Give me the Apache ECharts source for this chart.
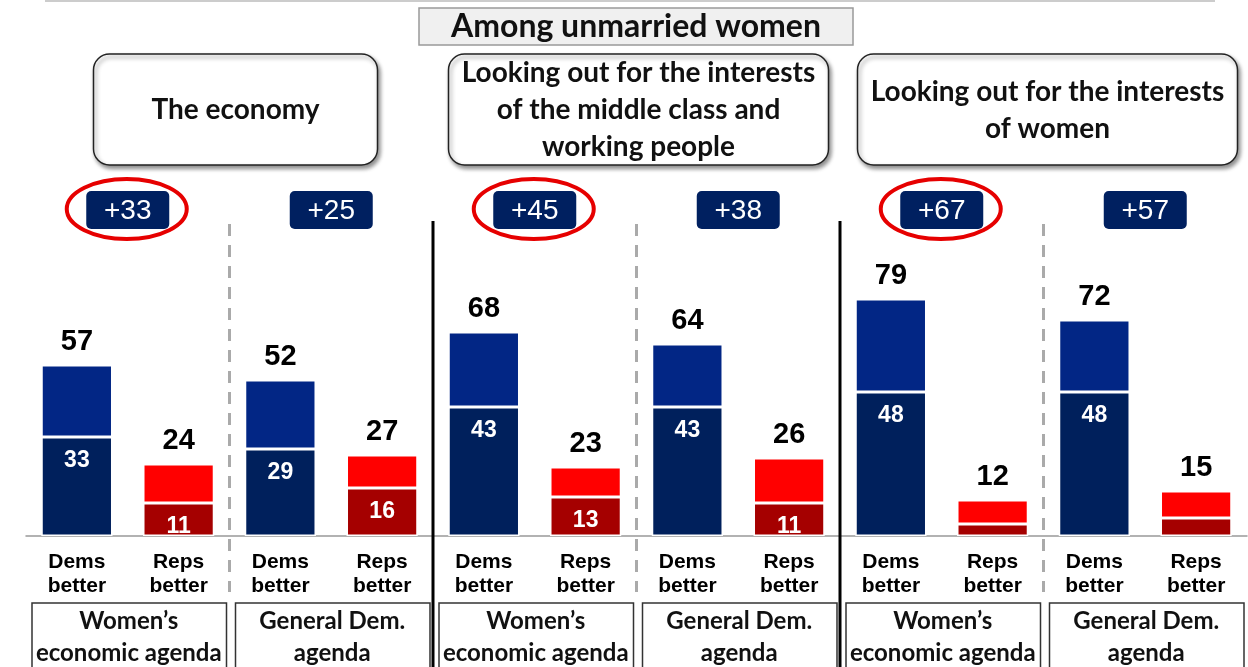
<!DOCTYPE html>
<html>
<head>
<meta charset="utf-8">
<script src="https://cdn.jsdelivr.net/npm/echarts@6/dist/echarts.min.js"></script>
<style>
html, body { margin: 0; padding: 0; background: #fff; }
#chart { width: 1248px; height: 667px; }
</style>
</head>
<body>
<div id="chart"></div>
<script>
var categories = ['Dems\nbetter', 'Reps\nbetter', 'Dems\nbetter', 'Reps\nbetter',
                  'Dems\nbetter', 'Reps\nbetter', 'Dems\nbetter', 'Reps\nbetter',
                  'Dems\nbetter', 'Reps\nbetter', 'Dems\nbetter', 'Reps\nbetter'];
var totals = [57, 24, 52, 27, 68, 23, 64, 26, 79, 12, 72, 15];
var inner  = [33, 11, 29, 16, 43, 13, 43, 11, 48, 4, 48, 6];
var margins = ['+33', '+25', '+45', '+38', '+67', '+57'];
var circled = [true, false, true, false, true, false];
var groupLabels = ['Women\u2019s\neconomic agenda', 'General Dem.\nagenda',
                   'Women\u2019s\neconomic agenda', 'General Dem.\nagenda',
                   'Women\u2019s\neconomic agenda', 'General Dem.\nagenda'];
var topics = ['The economy',
              'Looking out for the interests\nof the middle class and\nworking people',
              'Looking out for the interests\nof women'];
var titleText = 'Among unmarried women';

// resto de la barra (parte clara)
var rest = totals.map(function (t, i) { return t - inner[i]; });

var calibri = 'Lato, "Open Sans", sans-serif';
var arial = '"Liberation Sans", Arial, sans-serif';

var chart = echarts.init(document.getElementById('chart'));

var option = {
    animation: false,
    grid: { left: 26, right: 1, top: 236, bottom: 131 },
    xAxis: {
        type: 'category',
        data: categories,
        axisTick: { show: false },
        axisLine: { lineStyle: { color: '#999', width: 1.5 } },
        axisLabel: {
            interval: 0, margin: 14, color: '#000',
            fontSize: 21, fontWeight: 'bold', lineHeight: 24, fontFamily: arial
        }
    },
    yAxis: { type: 'value', min: 0, max: 100, show: false, splitLine: { show: false } },
    series: [{
        type: 'bar',
        stack: 's',
        barWidth: '70%',
        data: inner,
        itemStyle: {
            color: function (p) { return p.dataIndex % 2 ? '#a50000' : '#00205c'; },
            borderColor: '#fff', borderWidth: 1.5
        },
        label: {
            show: true, position: 'insideTop', distance: 12, color: '#fff',
            fontSize: 23, fontWeight: 'bold', fontFamily: arial,
            formatter: function (p) { return p.value >= 10 ? p.value : ''; }
        }
    }, {
        type: 'bar',
        stack: 's',
        data: rest,
        itemStyle: {
            color: function (p) { return p.dataIndex % 2 ? '#ff0000' : '#022685'; },
            borderColor: '#fff', borderWidth: 1.5
        },
        label: {
            show: true, position: 'top', distance: 9, color: '#000',
            fontSize: 29, fontWeight: 'bold', fontFamily: arial,
            formatter: function (p) { return totals[p.dataIndex]; }
        }
    }]
};

chart.setOption(option);

// Elementos decorativos posicionados con la escala del eje
var xAt = function (i) { return chart.convertToPixel({ xAxisIndex: 0 }, i); };
var step = xAt(1) - xAt(0);
var g = [];

g.push({ type: 'line', shape: { x1: 45, y1: 1, x2: 1215, y2: 1 }, style: { stroke: '#bbb', lineWidth: 1.5 } });

// título
g.push({ type: 'rect', shape: { x: 419, y: 8, width: 434, height: 37 },
         style: { fill: '#f0f0f0', stroke: '#999', lineWidth: 1.5 } });
g.push({ type: 'text', x: 636, y: 27,
         style: { text: titleText, align: 'center', verticalAlign: 'middle',
                  font: 'bold 32px ' + calibri, fill: '#111' } });

// cajas de temas
var topicWidths = [284, 380, 380];
var topicShift = [6, 2, 4];
topics.forEach(function (t, k) {
    var cx = (xAt(4 * k) + xAt(4 * k + 3)) / 2 + topicShift[k];
    var w = topicWidths[k];
    g.push({ type: 'rect', shape: { x: cx - w / 2, y: 54, width: w, height: 111, r: 16 },
             style: { fill: '#fff', stroke: '#222', lineWidth: 1.5,
                      shadowBlur: 4, shadowOffsetX: 2, shadowOffsetY: 3, shadowColor: 'rgba(0,0,0,0.45)' } });
    g.push({ type: 'text', x: cx, y: 110,
             style: { text: t, align: 'center', verticalAlign: 'middle', lineHeight: 37,
                      font: 'bold 28px ' + calibri, fill: '#111' } });
});

// separadores
for (var b = 0; b < 5; b++) {
    var sx = xAt(2 * b + 1) + step / 2;
    if (b % 2 === 1) {
        g.push({ type: 'line', shape: { x1: sx, y1: 221, x2: sx, y2: 667 },
                 style: { stroke: '#000', lineWidth: 3 }, z: 10 });
    } else {
        g.push({ type: 'line', shape: { x1: sx, y1: 224, x2: sx, y2: 592 },
                 style: { stroke: '#aaa', lineWidth: 3, lineDash: [12, 9] }, z: 10 });
    }
}

// diferencias y etiquetas de grupo
margins.forEach(function (m, k) {
    var cx = (xAt(2 * k) + xAt(2 * k + 1)) / 2;
    var left = xAt(2 * k) - step / 2;
    var right = xAt(2 * k + 1) + step / 2;
    g.push({ type: 'rect', shape: { x: cx - 41.5, y: 191, width: 83, height: 38, r: 5 },
             style: { fill: '#002060' } });
    g.push({ type: 'text', x: cx, y: 211,
             style: { text: m, align: 'center', verticalAlign: 'middle',
                      font: '28px ' + arial, fill: '#fff' } });
    if (circled[k]) {
        g.push({ type: 'ellipse', shape: { cx: cx - 1, cy: 209, rx: 60, ry: 30 },
                 style: { fill: null, stroke: '#e60000', lineWidth: 4 } });
    }
    g.push({ type: 'rect', shape: { x: left + 6, y: 603, width: right - left - 9, height: 70 },
             style: { fill: '#fff', stroke: '#333', lineWidth: 1.5 } });
    g.push({ type: 'text', x: cx + 1, y: 637,
             style: { text: groupLabels[k], align: 'center', verticalAlign: 'middle', lineHeight: 32,
                      font: 'bold 24px ' + calibri, fill: '#111' } });
});

chart.setOption({ graphic: g });
window.addEventListener('resize', chart.resize);
</script>
</body>
</html>
